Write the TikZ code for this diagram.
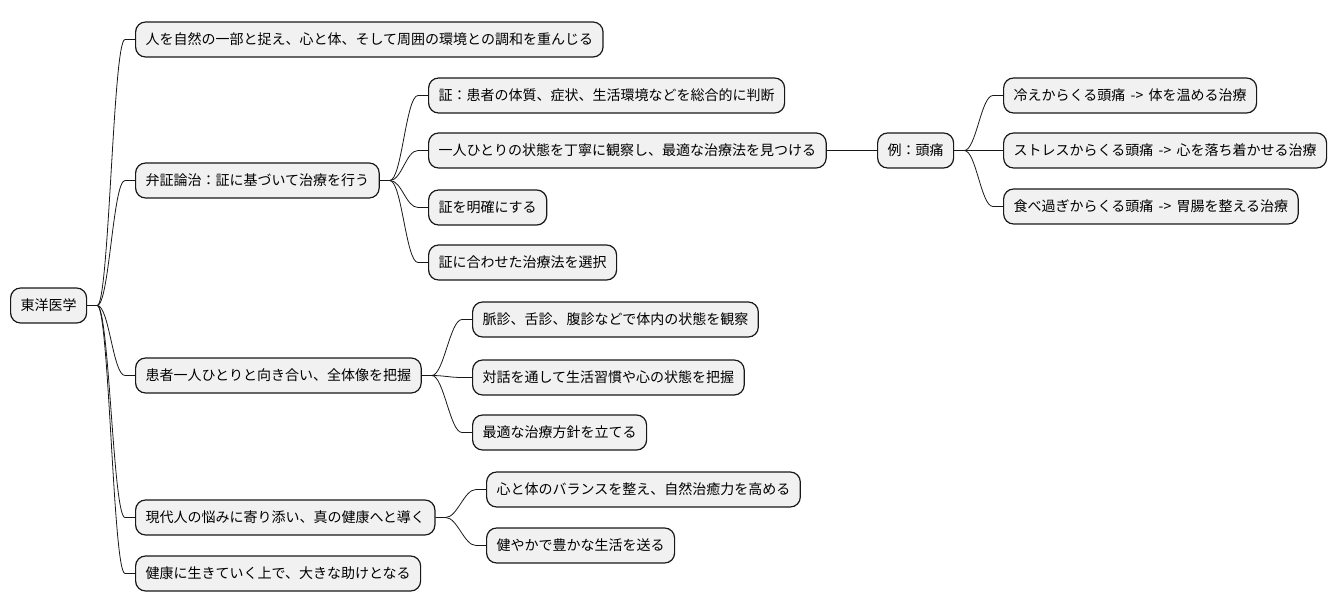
\documentclass[tikz,border=0pt]{standalone}
\usepackage{fontspec}
\setmainfont{Noto Sans CJK JP}
\usepackage{tikz}
\usetikzlibrary{positioning, calc}
\usepackage{xcolor}
\definecolor{boxfill}{RGB}{241,241,241}
\definecolor{boxline}{RGB}{24,24,24}
\newcommand{\boxfont}{\fontsize{14}{16}\selectfont\spaceskip=0.38em plus 0pt minus 0pt\relax}

\begin{document}
\begin{tikzpicture}[
    x=1pt, y=-1pt,
    box/.style={rectangle, draw=boxline, line width=1.2pt, rounded corners=10pt, fill=boxfill, minimum height=35pt, inner xsep=10pt, anchor=west, font=\boxfont},
    link/.style={draw=boxline, line width=0.8pt}
]
\useasboundingbox (0,0) rectangle (1340,612);
\node[box] (root) at (10,305.5) {東洋医学};

\node[box] (view) at (135,39.5) {人を自然の一部と捉え、心と体、そして周囲の環境との調和を重んじる};
\node[box] (benshou) at (135,180.5) {弁証論治：証に基づいて治療を行う};
\node[box] (patient) at (135,375.5) {患者一人ひとりと向き合い、全体像を把握};
\node[box] (modern) at (135,517.5) {現代人の悩みに寄り添い、真の健康へと導く};
\node[box] (health) at (135,573.5) {健康に生きていく上で、大きな助けとなる};

\node[box] (sho) at (428,95.5) {証：患者の体質、症状、生活環境などを総合的に判断};
\node[box] (observe) at (428,150.5) {一人ひとりの状態を丁寧に観察し、最適な治療法を見つける};
\node[box] (clarify) at (428,207.5) {証を明確にする};
\node[box] (select) at (428,262.5) {証に合わせた治療法を選択};

\node[box] (example) at (877,150.5) {例：頭痛};
\node[box] (cold) at (1003,95.5) {冷えからくる頭痛 -> 体を温める治療};
\node[box] (stress) at (1003,150.5) {ストレスからくる頭痛 -> 心を落ち着かせる治療};
\node[box] (overeat) at (1003,206.5) {食べ過ぎからくる頭痛 -> 胃腸を整える治療};

\node[box] (pulse) at (472,319.5) {脈診、舌診、腹診などで体内の状態を観察};
\node[box] (dialog) at (472,377.5) {対話を通して生活習慣や心の状態を把握};
\node[box] (plan) at (472,432.5) {最適な治療方針を立てる};

\node[box] (balance) at (486,489.5) {心と体のバランスを整え、自然治癒力を高める};
\node[box] (life) at (486,545.5) {健やかで豊かな生活を送る};

% branches
\foreach \p/\c in {root/view, root/benshou, root/patient, root/modern, root/health,
                   benshou/sho, benshou/observe, benshou/clarify, benshou/select,
                   example/cold, example/stress, example/overeat,
                   patient/pulse, patient/dialog, patient/plan,
                   modern/balance, modern/life}
  \draw[link] (\p.east) -- ++(10,0) .. controls +(12,0) and +(-12,0) .. ([xshift=-10pt]\c.west) -- (\c.west);
\draw[link] (observe) -- (example);
\end{tikzpicture}
\end{document}
